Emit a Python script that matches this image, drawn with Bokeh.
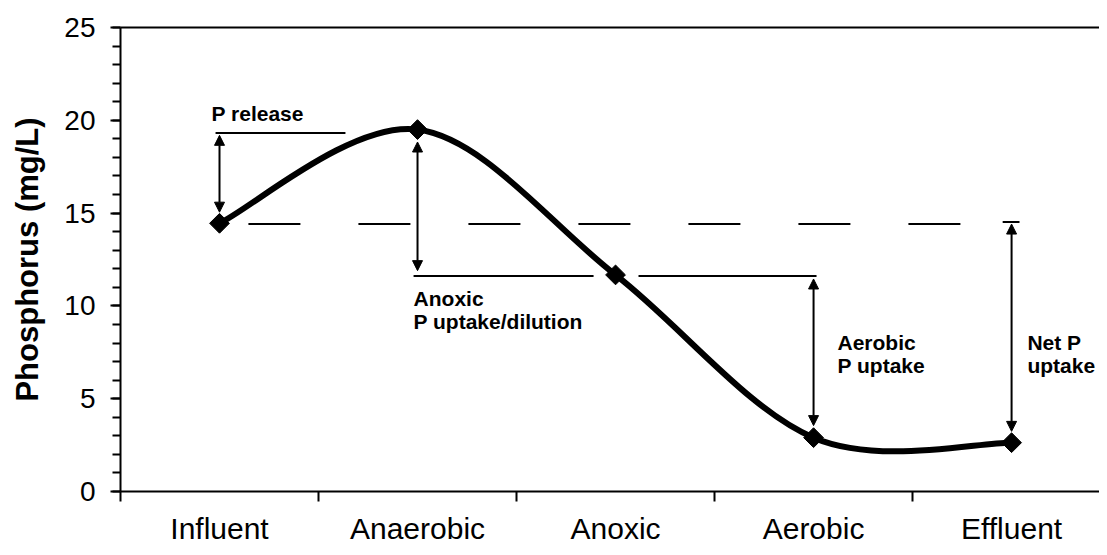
from math import pi
from bokeh.plotting import figure
from bokeh.models import (FixedTicker, LinearAxis, Arrow, NormalHead, Label,
                          ColumnDataSource, Range1d)
from bokeh.embed import file_html
from bokeh.resources import INLINE

# ---- data ----
stages = ["Influent", "Anaerobic", "Anoxic", "Aerobic", "Effluent"]
phosphorus = [14.45, 19.5, 11.67, 2.9, 2.63]
y_ticks = [0, 5, 10, 15, 20, 25]

FONT = "Liberation Sans"

xpos = [i + 1 for i in range(len(stages))]

p = figure(width=1099, height=547, x_range=Range1d(0.5, 5.444), y_range=Range1d(0, 25),
           output_backend="svg", toolbar_location=None,
           min_border_left=120, min_border_top=27, min_border_bottom=55, min_border_right=0)
p.xgrid.visible = False
p.ygrid.visible = False
p.outline_line_color = None
p.background_fill_color = "white"

# x axis
xa = p.xaxis[0]
xa.ticker = FixedTicker(ticks=xpos, minor_ticks=[i + 0.5 for i in range(len(stages) + 1)])
xa.major_label_overrides = {x: s for x, s in zip(xpos, stages)}
xa.major_tick_out = 0
xa.major_tick_in = 0
xa.minor_tick_out = 10
xa.minor_tick_in = 0
xa.minor_tick_line_width = 2
xa.minor_tick_line_color = "black"
xa.axis_line_width = 2
xa.axis_line_color = "black"
xa.major_label_text_font = FONT
xa.major_label_text_font_size = "30px"
xa.major_label_text_color = "black"
xa.major_label_standoff = 10

# y axis
ya = p.yaxis[0]
ya.ticker = FixedTicker(ticks=y_ticks, minor_ticks=list(range(0, 26)))
ya.major_tick_out = 10
ya.major_tick_in = 0
ya.minor_tick_out = 8
ya.minor_tick_in = 0
ya.major_tick_line_width = 2
ya.minor_tick_line_width = 2
ya.axis_line_width = 2
ya.axis_line_color = "black"
ya.major_tick_line_color = "black"
ya.minor_tick_line_color = "black"
ya.major_label_text_font = FONT
ya.major_label_text_font_size = "28px"
ya.major_label_text_color = "black"
ya.major_label_standoff = 15
ya.axis_label = "Phosphorus (mg/L)"
ya.axis_label_text_font = FONT
ya.axis_label_text_font_size = "31px"
ya.axis_label_text_font_style = "bold"
ya.axis_label_text_color = "black"
ya.axis_label_standoff = 16

# top border line
top = LinearAxis(ticker=FixedTicker(ticks=[]), major_label_text_font_size="0px",
                 major_tick_out=0, major_tick_in=0, minor_tick_out=0, minor_tick_in=0,
                 axis_line_width=2, axis_line_color="black")
p.add_layout(top, "above")

# smoothed curve as bezier segments (control points from neighbouring data points)
n = len(xpos)
seg = dict(x0=[], y0=[], x1=[], y1=[], cx0=[], cy0=[], cx1=[], cy1=[])
for i in range(n - 1):
    a = i - 1 if i > 0 else i
    b = i + 2 if i + 2 < n else i + 1
    seg["x0"].append(xpos[i]); seg["y0"].append(phosphorus[i])
    seg["x1"].append(xpos[i + 1]); seg["y1"].append(phosphorus[i + 1])
    seg["cx0"].append(xpos[i] + (xpos[i + 1] - xpos[a]) / 6)
    seg["cy0"].append(phosphorus[i] + (phosphorus[i + 1] - phosphorus[a]) / 6)
    seg["cx1"].append(xpos[i + 1] - (xpos[b] - xpos[i]) / 6)
    seg["cy1"].append(phosphorus[i + 1] - (phosphorus[b] - phosphorus[i]) / 6)
p.bezier(x0="x0", y0="y0", x1="x1", y1="y1", cx0="cx0", cy0="cy0", cx1="cx1", cy1="cy1",
         source=ColumnDataSource(seg), line_color="black", line_width=6)

p.scatter(xpos, phosphorus, marker="square", size=14, angle=pi / 4,
          fill_color="black", line_color="black")

# reference lines
p.line([1.146, 4.753], [14.41, 14.41], line_color="black", line_width=2, line_dash="52 58")
p.line([0.98, 1.636], [19.32, 19.32], line_color="black", line_width=2)
p.line([1.98, 2.889], [11.61, 11.61], line_color="black", line_width=2)
p.line([3.116, 4.015], [11.61, 11.61], line_color="black", line_width=2)
p.line([4.955, 5.04], [14.52, 14.52], line_color="black", line_width=2)


def head():
    return NormalHead(size=10, fill_color="black", line_color="black", line_width=1)


for x, y0, y1 in [(1, 15.05, 19.19), (2, 11.9, 18.83), (4, 3.55, 11.45), (5, 3.24, 14.41)]:
    p.add_layout(Arrow(x_start=x, y_start=y0, x_end=x, y_end=y1, start=head(), end=head(),
                       line_color="black", line_width=2))

for txt, x, y in [("P release", 0.96, 20.38), ("Anoxic", 1.98, 10.38),
                  ("P uptake/dilution", 1.98, 9.18), ("Aerobic", 4.121, 8.03),
                  ("P uptake", 4.121, 6.79), ("Net P", 5.08, 8.03), ("uptake", 5.08, 6.79)]:
    p.add_layout(Label(x=x, y=y, text=txt, text_font=FONT, text_font_size="21px",
                       text_font_style="bold", text_color="black", text_baseline="alphabetic"))

open("out.html", "w").write(file_html(p, INLINE))
